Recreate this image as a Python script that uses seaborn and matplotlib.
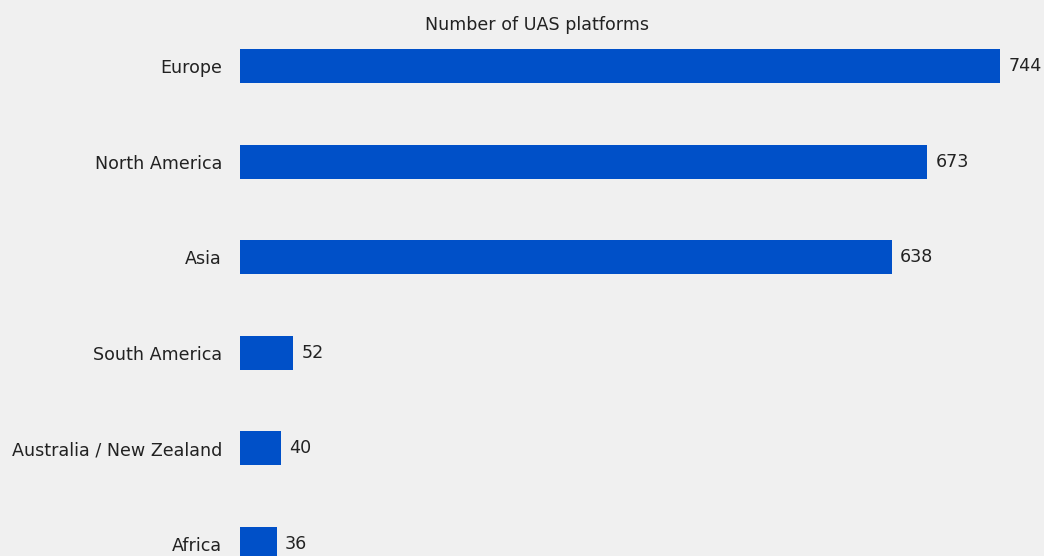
import matplotlib
matplotlib.use("Agg")
import matplotlib.pyplot as plt
import seaborn as sns
import pandas as pd

regions = ["Europe", "North America", "Asia", "South America",
           "Australia / New Zealand", "Africa"]
platforms = [744, 673, 638, 52, 40, 36]
title = "Number of UAS platforms"

bg = "#f0f0f0"
bar_color = "#0050c8"
text_color = "#222222"

sns.set_theme(style="white")
plt.rcParams["font.family"] = ["DejaVu Sans"]

df = pd.DataFrame({"region": regions, "platforms": platforms})

fig = plt.figure(figsize=(10.44, 5.56), dpi=100, facecolor=bg)
# axes extend below the canvas so the last row is cut at the bottom edge
ax = fig.add_axes([240 / 1044, -0.0644, 760 / 1044, 1.0317])
ax.set_facecolor(bg)

sns.barplot(data=df, x="platforms", y="region", order=regions,
            color=bar_color, width=0.355, saturation=1, linewidth=0, ax=ax)

ax.set_xlim(0, 744)
ax.set_ylim(5.5, -0.5)
for s in ax.spines.values():
    s.set_visible(False)
ax.set_xticks([])
ax.set_xlabel("")
ax.set_ylabel("")
ax.tick_params(axis="y", length=0, pad=13, labelsize=12.6, labelcolor=text_color)
for lbl in ax.get_yticklabels():
    lbl.set_va("center_baseline")

for container in ax.containers:
    ax.bar_label(container, labels=[str(v) for v in platforms], padding=6,
                 fontsize=12.6, color=text_color, clip_on=False)

fig.text(537 / 1044, 1 - 25 / 556, title, ha="center", va="center",
         fontsize=12.6, color=text_color)

fig.savefig("out.png", dpi=100, facecolor=bg)
